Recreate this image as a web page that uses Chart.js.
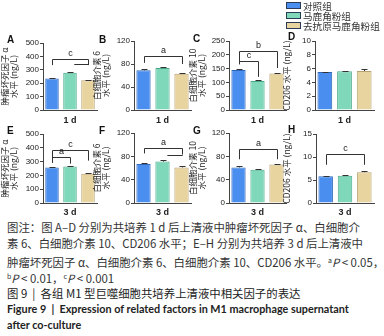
<!DOCTYPE html>
<html>
<head>
<meta charset="utf-8">
<script src="https://cdn.jsdelivr.net/npm/chart.js@4.4.1/dist/chart.umd.min.js"></script>
<style>
body{margin:0;width:384px;height:336px;background:#fff;position:relative;overflow:hidden;font-family:"Noto Sans CJK SC","Noto Sans",sans-serif;color:#333}
canvas{position:absolute}
.lt{position:absolute;font:bold 10px "Liberation Sans",sans-serif;color:#111}
.lg{position:absolute;left:286px;font-size:9.6px;color:#333;line-height:10px}
.lg span{display:inline-block;width:13px;height:5px;border:1px solid #2b3b55;margin-right:2px;vertical-align:1px}
.cap{position:absolute;left:7px;font-size:11.4px;white-space:nowrap;color:#333;line-height:14px}
.cap sup{font-size:7px;vertical-align:4px}
.en{font-family:Lato,sans-serif;font-weight:bold;font-size:10.8px;color:#222}
</style>
</head>
<body>
<canvas id="cA"></canvas><canvas id="cB"></canvas><canvas id="cC"></canvas><canvas id="cD"></canvas>
<canvas id="cE"></canvas><canvas id="cF"></canvas><canvas id="cG"></canvas><canvas id="cH"></canvas>

<div class="lt" style="left:7px;top:34px">A</div>
<div class="lt" style="left:99px;top:34px">B</div>
<div class="lt" style="left:193px;top:33px">C</div>
<div class="lt" style="left:288px;top:31px">D</div>
<div class="lt" style="left:7px;top:125px">E</div>
<div class="lt" style="left:99px;top:125px">F</div>
<div class="lt" style="left:193px;top:125px">G</div>
<div class="lt" style="left:288px;top:124px">H</div>

<div id="legend"></div>

<div class="cap" style="top:220px">图注：图 A–D 分别为共培养 1 d 后上清液中肿瘤坏死因子 α、白细胞介</div>
<div class="cap" style="top:236px">素 6、白细胞介素 10、CD206 水平；E–H 分别为共培养 3 d 后上清液中</div>
<div class="cap" style="top:253px">肿瘤坏死因子 α、白细胞介素 6、白细胞介素 10、CD206 水平。<sup>a</sup><i>P</i> &lt; 0.05，</div>
<div class="cap" style="top:269px"><sup>b</sup><i>P</i> &lt; 0.01，<sup>c</sup><i>P</i> &lt; 0.001</div>
<div class="cap" style="top:286px;color:#222">图 9 &nbsp;|&nbsp; 各组 M1 型巨噬细胞共培养上清液中相关因子的表达</div>
<div class="cap en" style="top:302px">Figure 9 &nbsp;|&nbsp; Expression of related factors in M1 macrophage supernatant</div>
<div class="cap en" style="top:318px">after co-culture</div>

<script>
// groups and colours
const groups = ['对照组', '马鹿角粉组', '去抗原马鹿角粉组'];
const fills = ['#4a8ff0', '#7fd8b9', '#e8d49e'];
const edges = ['#2f66b8', '#4aa88a', '#b8a270'];

// 1 d
const valsA = [235, 278, 222], errA = [4, 3, 3];
const valsB = [69, 73, 63],    errB = [2, 2.5, 2];
const valsC = [145, 105, 132], errC = [3, 3, 2];
const valsD = [5.5, 5.6, 5.65], errD = [0.05, 0.05, 0.3];
// 3 d
const valsE = [258, 265, 212], errE = [4, 4, 2];
const valsF = [67, 71, 61],    errF = [2, 2.5, 2];
const valsG = [61, 57, 66],    errG = [2, 2, 1.5];
const valsH = [5.8, 5.9, 6.7], errH = [0.1, 0.1, 0.2];

// significance brackets: [from, to, top value, left end, right end, label]
const sigA = [[0, 2, 380, 335, 335, 'c'], [1.2, 2, 343, 343, 343, '']];
const sigB = [[0, 2, 94, 82, 80, 'a']];
const sigC = [[0, 2, 214, 170, 152, 'b'], [0, 1, 178, 165, 120, 'c']];
const sigD = [];
const sigE = [[0, 2, 386, 300, 307, 'c'], [0, 1, 336, 290, 285, 'a']];
const sigF = [[0, 2, 95, 85, 83, 'a'], [1.25, 2, 82, 82, 82, '']];
const sigG = [[0, 2, 92, 75, 75, 'a']];
const sigH = [[0, 2, 10.6, 8.3, 8.3, 'c']];

const titleTNF = ['肿瘤坏死因子 α', '水平 (ng/L)'];
const titleIL6 = ['白细胞介素 6', '水平 (ng/L)'];
const titleIL10 = ['白细胞介素 10', '水平 (ng/L)'];
const titleCD = 'CD206 水平 (ng/L)';

// legend
document.getElementById('legend').innerHTML = groups.map((g, i) =>
  '<div class="lg" style="top:' + (1 + i * 10) + 'px"><span style="background:' + fills[i] + '"></span>' + g + '</div>'
).join('');

const extras = {
  id: 'extras',
  afterDatasetsDraw(chart) {
    const c = chart.ctx, x = chart.scales.x, y = chart.scales.y;
    const o = chart.options.plugins.extras;
    c.save();
    c.strokeStyle = '#333';
    c.lineWidth = 1;
    // error bars
    o.vals.forEach((v, i) => {
      const px = Math.round(x.getPixelForValue(i)) + 0.5;
      const y0 = y.getPixelForValue(v), y1 = Math.round(y.getPixelForValue(v + o.errs[i])) + 0.5;
      c.beginPath();
      c.moveTo(px, y0); c.lineTo(px, y1);
      c.moveTo(px - 3, y1); c.lineTo(px + 3, y1);
      c.stroke();
    });
    // brackets
    c.fillStyle = '#222';
    c.font = '9px "Liberation Sans", sans-serif';
    c.textAlign = 'center';
    c.textBaseline = 'bottom';
    o.sig.forEach(s => {
      const xa = Math.round(x.getPixelForValue(s[0])) + 0.5;
      const xb = Math.round(x.getPixelForValue(s[1])) + 0.5;
      const yt = Math.round(y.getPixelForValue(s[2])) + 0.5;
      c.beginPath();
      c.moveTo(xa, y.getPixelForValue(s[3]));
      c.lineTo(xa, yt); c.lineTo(xb, yt);
      c.lineTo(xb, y.getPixelForValue(s[4]));
      c.stroke();
      if (s[5]) c.fillText(s[5], (xa + xb) / 2, yt - 1);
    });
    c.restore();
  }
};

function panel(id, vals, errs, sig, yMax, yStep, yTitle, xTitle, g) {
  const cv = document.getElementById(id);
  cv.width = g.w; cv.height = g.h;
  cv.style.left = g.left + 'px'; cv.style.top = g.top + 'px';
  new Chart(cv, {
    type: 'bar',
    data: {
      labels: groups,
      datasets: [{
        data: vals,
        backgroundColor: fills,
        borderColor: edges,
        borderWidth: 1,
        barPercentage: 0.75,
        categoryPercentage: 1
      }]
    },
    options: {
      responsive: false,
      animation: false,
      layout: { padding: { top: g.plotTop - g.top, right: g.left + g.w - g.plotRight, left: 0, bottom: 0 } },
      plugins: {
        legend: { display: false },
        tooltip: { enabled: false },
        extras: { vals: vals, errs: errs, sig: sig }
      },
      scales: {
        x: {
          grid: { display: false },
          border: { display: true, color: '#444' },
          ticks: { display: false },
          title: { display: true, text: xTitle, color: '#222', padding: { top: 3, bottom: 0 },
                   font: { family: 'Liberation Sans', size: 9, weight: 'bold' } },
          afterFit: s => { s.height = g.top + g.h - g.plotBottom; }
        },
        y: {
          min: 0, max: yMax,
          grid: { drawOnChartArea: false, drawTicks: true, tickLength: 3, color: '#444' },
          border: { display: true, color: '#444' },
          ticks: { stepSize: yStep, padding: 1, color: '#222', font: { family: 'Liberation Sans', size: 8 } },
          title: { display: true, text: yTitle, color: '#222', padding: { top: 0, bottom: 1 },
                   font: { family: 'Noto Sans CJK SC', size: 8.5, lineHeight: 1.1 } },
          afterFit: s => { s.width = g.axisX - g.left; }
        }
      }
    },
    plugins: [extras]
  });
}

const top1 = 28, top2 = 120;
panel('cA', valsA, errA, sigA, 500, 100, titleTNF, '1 d', { left: 0,   top: top1, w: 100, h: 98, axisX: 43,  plotRight: 97,  plotTop: 43, plotBottom: 110 });
panel('cB', valsB, errB, sigB, 120, 40,  titleIL6, '1 d', { left: 92,  top: top1, w: 102, h: 98, axisX: 134, plotRight: 191, plotTop: 41, plotBottom: 110 });
panel('cC', valsC, errC, sigC, 250, 50,  titleIL10, '1 d', { left: 188, top: top1, w: 100, h: 98, axisX: 229, plotRight: 286, plotTop: 41, plotBottom: 110 });
panel('cD', valsD, errD, sigD, 10, 2,    titleCD,  '1 d', { left: 282, top: top1, w: 100, h: 98, axisX: 315, plotRight: 374, plotTop: 41, plotBottom: 110 });
panel('cE', valsE, errE, sigE, 500, 100, titleTNF, '3 d', { left: 0,   top: top2, w: 100, h: 98, axisX: 43,  plotRight: 97,  plotTop: 134, plotBottom: 203 });
panel('cF', valsF, errF, sigF, 120, 40,  titleIL6, '3 d', { left: 92,  top: top2, w: 102, h: 98, axisX: 134, plotRight: 191, plotTop: 133, plotBottom: 203 });
panel('cG', valsG, errG, sigG, 120, 40,  titleIL10, '3 d', { left: 188, top: top2, w: 100, h: 98, axisX: 229, plotRight: 286, plotTop: 133, plotBottom: 203 });
panel('cH', valsH, errH, sigH, 15, 5,    titleCD,  '3 d', { left: 282, top: top2, w: 100, h: 98, axisX: 316, plotRight: 374, plotTop: 134, plotBottom: 203 });
</script>
</body>
</html>
